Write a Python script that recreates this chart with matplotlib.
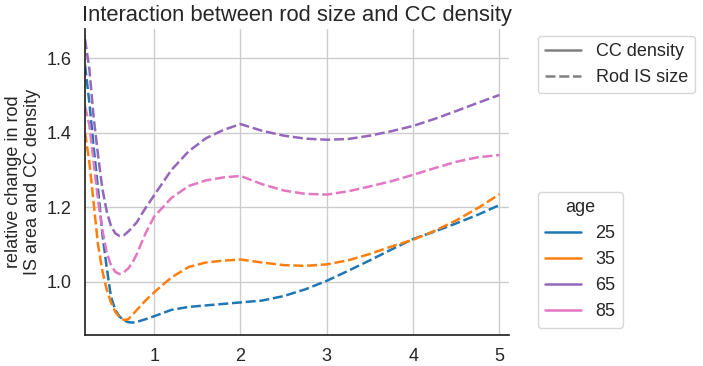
import matplotlib
matplotlib.use("Agg")
import matplotlib.pyplot as plt
from matplotlib.lines import Line2D
import seaborn as sns

# eccentricity (x) and relative change, one list per age group
ecc = [0.2, 0.25, 0.3, 0.35, 0.4, 0.45, 0.5, 0.55, 0.6, 0.65, 0.7, 0.75, 0.8, 0.9, 1.0,
       1.2, 1.4, 1.6, 1.8, 2.0, 2.25, 2.5, 2.75, 3.0, 3.25, 3.5, 3.75, 4.0, 4.25, 4.5, 4.75, 5.0]

rod_25 = [1.58, 1.48, 1.36, 1.25, 1.13, 1.04, 0.96, 0.925, 0.907, 0.897, 0.892, 0.891, 0.893, 0.900, 0.908,
          0.925, 0.933, 0.937, 0.941, 0.945, 0.950, 0.962, 0.980, 1.003, 1.030, 1.058, 1.087, 1.115, 1.135, 1.157, 1.180, 1.206]
rod_35 = [1.40, 1.32, 1.21, 1.10, 1.03, 0.98, 0.945, 0.920, 0.905, 0.898, 0.900, 0.912, 0.925, 0.950, 0.972,
          1.012, 1.040, 1.052, 1.057, 1.060, 1.052, 1.045, 1.043, 1.047, 1.058, 1.075, 1.095, 1.113, 1.137, 1.165, 1.198, 1.235]
rod_65 = [1.65, 1.57, 1.44, 1.34, 1.25, 1.19, 1.15, 1.13, 1.123, 1.125, 1.135, 1.147, 1.160, 1.198, 1.232,
          1.300, 1.350, 1.385, 1.407, 1.423, 1.405, 1.392, 1.384, 1.381, 1.383, 1.392, 1.404, 1.418, 1.437, 1.458, 1.480, 1.501]
rod_85 = [1.47, 1.42, 1.32, 1.22, 1.14, 1.08, 1.045, 1.027, 1.021, 1.026, 1.036, 1.052, 1.075, 1.130, 1.175,
          1.225, 1.257, 1.272, 1.280, 1.284, 1.262, 1.245, 1.236, 1.234, 1.243, 1.256, 1.270, 1.287, 1.305, 1.322, 1.334, 1.340]

ages = ["25", "35", "65", "85"]
colors = ["#1f77b4", "#ff7f0e", "#9467bd", "#e377c2"]
series = [rod_25, rod_35, rod_65, rod_85]

sns.set_theme(style="whitegrid")
plt.rcParams["font.family"] = ["Liberation Sans", "DejaVu Sans"]

fig = plt.figure(figsize=(7.03, 3.66), dpi=100)
ax = fig.add_axes([0.121, 0.085, 0.603, 0.836])

for ys, c in zip(series, colors):
    ax.plot(ecc, ys, color=c, lw=1.8, dashes=(4, 1.5))

ax.set_xlim(0.2, 5.11)
ax.set_ylim(0.858, 1.678)
ax.set_xticks([1, 2, 3, 4, 5])
ax.set_yticks([1.0, 1.2, 1.4, 1.6])
ax.tick_params(labelsize=13)
sns.despine(ax=ax)
for s in ["left", "bottom"]:
    ax.spines[s].set_color(".15")

ax.set_ylabel("relative change in rod\nIS area and CC density", fontsize=13)
ax.set_title("Interaction between rod size and CC density", fontsize=15.8)

style_handles = [Line2D([], [], color="gray", lw=1.8),
                 Line2D([], [], color="gray", lw=1.8, dashes=(4, 1.5))]
leg1 = ax.legend(style_handles, ["CC density", "Rod IS size"], loc="upper left",
                 bbox_to_anchor=(0.765, 0.902), bbox_transform=fig.transFigure,
                 borderaxespad=0, fontsize=13)
ax.add_artist(leg1)

hue_handles = [Line2D([], [], color=c, lw=1.8) for c in colors]
ax.legend(hue_handles, ages, title="age", loc="upper left",
          bbox_to_anchor=(0.765, 0.475), bbox_transform=fig.transFigure,
          borderaxespad=0, fontsize=13, title_fontsize=13)

fig.savefig("out.png", dpi=100)
